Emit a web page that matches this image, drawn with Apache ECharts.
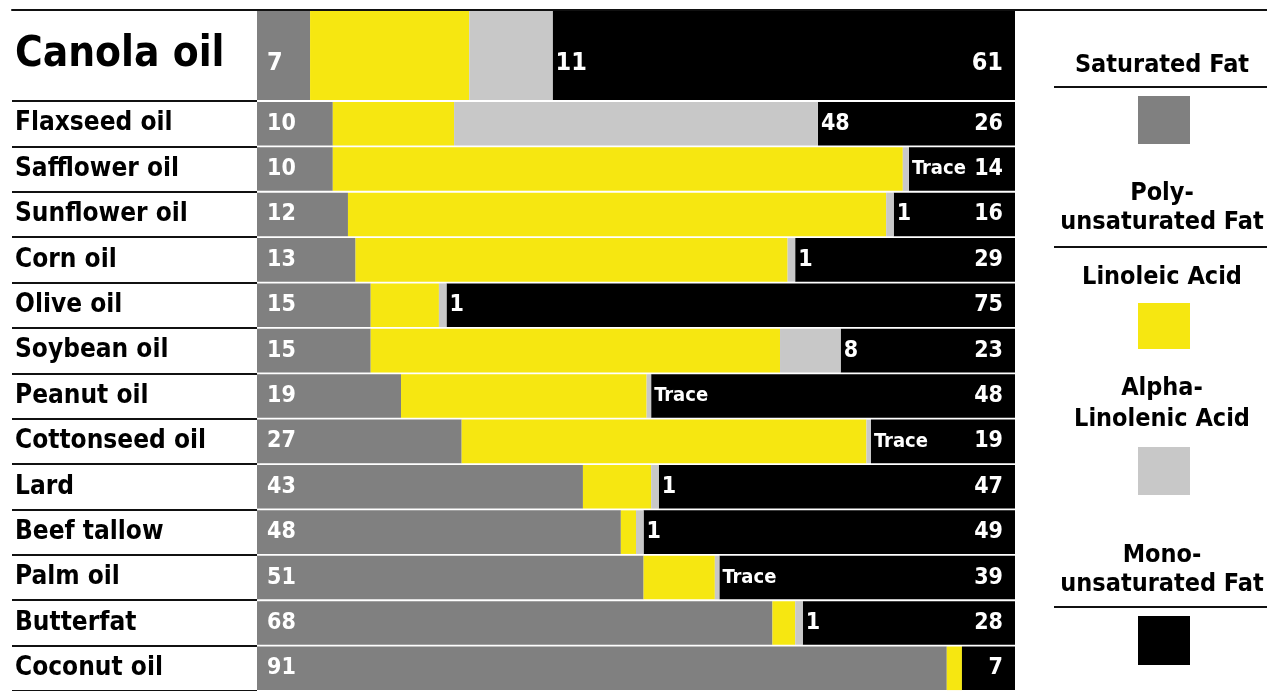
<!DOCTYPE html>
<html>
<head>
<meta charset="utf-8">
<script src="https://cdn.jsdelivr.net/npm/echarts@6/dist/echarts.min.js"></script>
<style>
  html, body { margin: 0; padding: 0; background: #fff; }
  #chart { width: 1267px; height: 691px; }
</style>
</head>
<body>
<div id="chart"></div>
<script>
// ---- data ----
const categories = ['Canola oil', 'Flaxseed oil', 'Safflower oil', 'Sunflower oil', 'Corn oil', 'Olive oil', 'Soybean oil', 'Peanut oil', 'Cottonseed oil', 'Lard', 'Beef tallow', 'Palm oil', 'Butterfat', 'Coconut oil'];
const saturated = [7, 10, 10, 12, 13, 15, 15, 19, 27, 43, 48, 51, 68, 91];
const linoleic = [21, 16, 75.2, 71, 57, 9, 54, 32.4, 53.4, 9, 2, 9.4, 3, 2];
const alphaLinolenic = [11, 48, 0.8, 1, 1, 1, 8, 0.6, 0.6, 1, 1, 0.6, 1, 0];
const mono = [61, 26, 14, 16, 29, 75, 23, 48, 19, 47, 49, 39, 28, 7];
const saturatedLabels = ['7', '10', '10', '12', '13', '15', '15', '19', '27', '43', '48', '51', '68', '91'];
const alphaLabels = ['11', '48', 'Trace', '1', '1', '1', '8', 'Trace', 'Trace', '1', '1', 'Trace', '1', ''];
const monoLabels = ['61', '26', '14', '16', '29', '75', '23', '48', '19', '47', '49', '39', '28', '7'];
const seriesNames = ['Saturated Fat', 'Linoleic Acid', 'Alpha-Linolenic Acid', 'Monounsaturated Fat'];
const legendTitles = ['Saturated Fat', 'Poly-\nunsaturated Fat', 'Linoleic Acid', 'Alpha-\nLinolenic Acid', 'Mono-\nunsaturated Fat'];
const colors = ['#808080', '#f6e711', '#c8c8c8', '#000000'];

// ---- layout ----
const FONT = "'DejaVu Sans Condensed', 'Liberation Sans Narrow', sans-serif";
const PL = 257, PW = 758;
const TOP = 10, CANOLA_H = 91, ROW_TOP = TOP + CANOLA_H, ROWS_H = 593;
const LX = 1162;

const chart = echarts.init(document.getElementById('chart'), null, { renderer: 'canvas' });

const first = arr => arr.slice(0, 1);
const rest = arr => arr.slice(1);

const valueLabel = (txtArr, pos, extra) => Object.assign({
  show: true, position: pos, color: '#fff', fontFamily: FONT, fontWeight: 'bold', fontSize: 23,
  formatter: p => {
    const t = txtArr[p.dataIndex];
    return t === 'Trace' ? '{t|Trace}' : t;
  },
  rich: { t: { color: '#fff', fontFamily: FONT, fontWeight: 'bold', fontSize: 20 } }
}, extra || {});

function makeSeries(gridIdx, pick, canola) {
  const off = canola ? [0, 8] : [0, 0];
  const fs = canola ? 25 : 23;
  const sat = pick(saturatedLabels), alp = pick(alphaLabels), mon = pick(monoLabels);
  return [
    { name: seriesNames[0], type: 'bar', stack: 's' + gridIdx, xAxisIndex: gridIdx, yAxisIndex: gridIdx,
      data: pick(saturated), itemStyle: { color: colors[0] }, barCategoryGap: canola ? '2%' : '4%',
      label: valueLabel(sat, 'insideLeft', { distance: 10, offset: off, fontSize: fs }) },
    { name: seriesNames[1], type: 'bar', stack: 's' + gridIdx, xAxisIndex: gridIdx, yAxisIndex: gridIdx,
      data: pick(linoleic), itemStyle: { color: colors[1] } },
    { name: seriesNames[2], type: 'bar', stack: 's' + gridIdx, xAxisIndex: gridIdx, yAxisIndex: gridIdx, z: 5,
      data: pick(alphaLinolenic), itemStyle: { color: colors[2] },
      label: valueLabel(alp, 'right', { distance: 3, offset: off, fontSize: fs }) },
    { name: seriesNames[3], type: 'bar', stack: 's' + gridIdx, xAxisIndex: gridIdx, yAxisIndex: gridIdx,
      data: pick(mono), itemStyle: { color: colors[3] },
      label: valueLabel(mon, 'insideRight', { distance: 12, offset: off, fontSize: fs }) }
  ];
}

const hiddenValueAxis = (g, extra) => Object.assign({ type: 'value', gridIndex: g, min: 0, max: 100, show: false }, extra || {});

const legendText = (txt, y, lh) => ({
  type: 'text', x: LX, y: y,
  style: { text: txt, align: 'center', verticalAlign: 'top', lineHeight: lh || 27, fill: '#000', font: "bold 25px " + FONT }
});
const legendLine = y => ({ type: 'line', shape: { x1: 1054, y1: y, x2: 1267, y2: y }, style: { stroke: '#111', lineWidth: 2 } });
const legendBox = (y, h, c) => ({ type: 'rect', shape: { x: 1138, y: y, width: 52, height: h }, style: { fill: c } });

const option = {
  backgroundColor: '#fff',
  animation: false,
  grid: [
    { left: PL, width: PW, top: TOP, height: CANOLA_H },
    { left: PL, width: PW, top: ROW_TOP, height: ROWS_H },
    { left: 12, width: PL - 12, top: ROW_TOP, height: ROWS_H },
    { left: 12, right: 0, top: TOP, height: CANOLA_H }
  ],
  xAxis: [
    hiddenValueAxis(0),
    hiddenValueAxis(1),
    hiddenValueAxis(2),
    { type: 'value', gridIndex: 3, min: 0, max: 100, position: 'top', show: true,
      axisLine: { show: true, lineStyle: { color: '#111', width: 2 } },
      axisTick: { show: false }, axisLabel: { show: false }, splitLine: { show: false } }
  ],
  yAxis: [
    { type: 'category', gridIndex: 0, inverse: true, data: first(categories),
      axisLine: { show: false }, axisTick: { show: false }, splitLine: { show: false },
      axisLabel: { align: 'left', margin: PL - 15, color: '#000', fontFamily: FONT, fontWeight: 'bold', fontSize: 42 } },
    { type: 'category', gridIndex: 1, inverse: true, data: rest(categories),
      axisLine: { show: false }, axisTick: { show: false }, splitLine: { show: false },
      axisLabel: { align: 'left', margin: PL - 15, color: '#000', fontFamily: FONT, fontWeight: 'bold', fontSize: 26, interval: 0 } },
    { type: 'category', gridIndex: 2, inverse: true, data: rest(categories),
      axisLine: { show: false }, axisTick: { show: false }, axisLabel: { show: false },
      splitLine: { show: true, interval: 0, lineStyle: { color: '#111', width: 2 } } },
    { type: 'category', gridIndex: 3, data: [''], show: false }
  ],
  series: [].concat(makeSeries(0, first, true), makeSeries(1, rest, false)),
  graphic: [
    legendText(legendTitles[0], 52),
    legendLine(87),
    legendBox(96, 48, colors[0]),
    legendText(legendTitles[1], 179, 29),
    legendLine(247),
    legendText(legendTitles[2], 264),
    legendBox(303, 46, colors[1]),
    legendText(legendTitles[3], 373, 31),
    legendBox(447, 48, colors[2]),
    legendText(legendTitles[4], 541, 29),
    legendLine(607),
    legendBox(616, 49, colors[3])
  ]
};

chart.setOption(option);
</script>
</body>
</html>
